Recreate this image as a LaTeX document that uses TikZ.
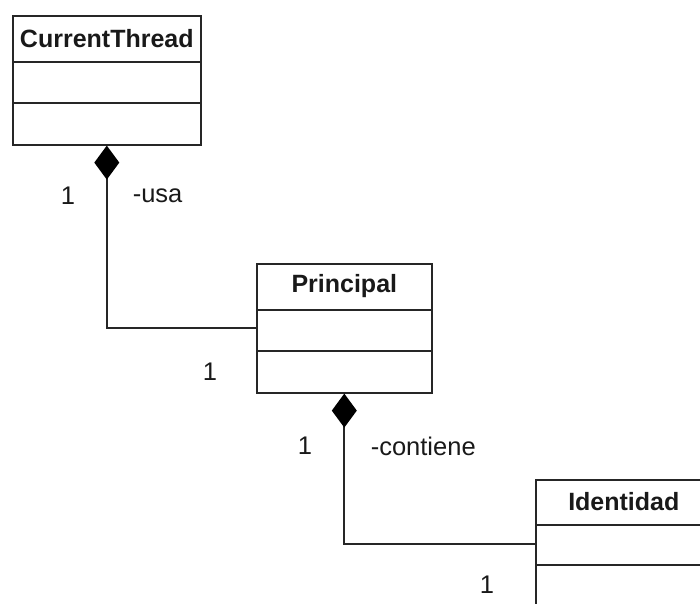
\documentclass[tikz,border=0pt]{standalone}
\usepackage{fontspec}
\setmainfont{Liberation Sans}
\usetikzlibrary{arrows.meta}
\begin{document}
\begin{tikzpicture}[x=1pt,y=-1pt,
  line width=1.6pt,
  classbox/.style={draw=black!85, minimum height=129pt, anchor=north west, inner sep=0pt},
  classtitle/.style={font=\fontsize{25}{29}\selectfont\bfseries, text=black!90, inner sep=0pt},
  lbl/.style={font=\fontsize{25.5}{29}\selectfont, text=black!90, inner sep=0pt},
  comp/.style={draw=black!85, line width=1.9pt, -{Diamond[length=34pt,width=25pt,black,line width=0pt]}}
]
\useasboundingbox (0,0) rectangle (700,603);
\clip (0,0) rectangle (700,603);
% CurrentThread
\node[classbox, minimum width=188pt] (ct) at (12,15) {};
\draw[draw=black!85] ([yshift=-47pt]ct.north west) -- ([yshift=-47pt]ct.north east);
\draw[draw=black!85] ([yshift=-88pt]ct.north west) -- ([yshift=-88pt]ct.north east);
\node[classtitle] (ctt) at ([yshift=-23.5pt]ct.north) {CurrentThread};
% Principal
\node[classbox, minimum width=175pt] (pr) at (256,263) {};
\draw[draw=black!85] ([yshift=-47pt]pr.north west) -- ([yshift=-47pt]pr.north east);
\draw[draw=black!85] ([yshift=-88pt]pr.north west) -- ([yshift=-88pt]pr.north east);
\node[classtitle] (prt) at ([yshift=-23.5pt]pr.north) {Principal};
% Identidad
\node[classbox, minimum width=176pt] (id) at (535,479) {};
\draw[draw=black!85] ([yshift=-46pt]id.north west) -- ([yshift=-46pt]id.north east);
\draw[draw=black!85] ([yshift=-86pt]id.north west) -- ([yshift=-86pt]id.north east);
\node[classtitle] (idt) at ([yshift=-23pt]id.north) {Identidad};
% connectors
\draw[comp] (pr.west) -| (ct.south);
\draw[comp] (id.west) -| (pr.south);
% labels
\node[lbl] (m1) at (68,196) {1};
\node[lbl, anchor=west] (r1) at (132,196) {-usa};
\node[lbl] (m2) at (210,372) {1};
\node[lbl] (m3) at (305,446) {1};
\node[lbl, anchor=west] (r2) at (370,446) {-contiene};
\node[lbl] (m4) at (487,585) {1};
\end{tikzpicture}
\end{document}
